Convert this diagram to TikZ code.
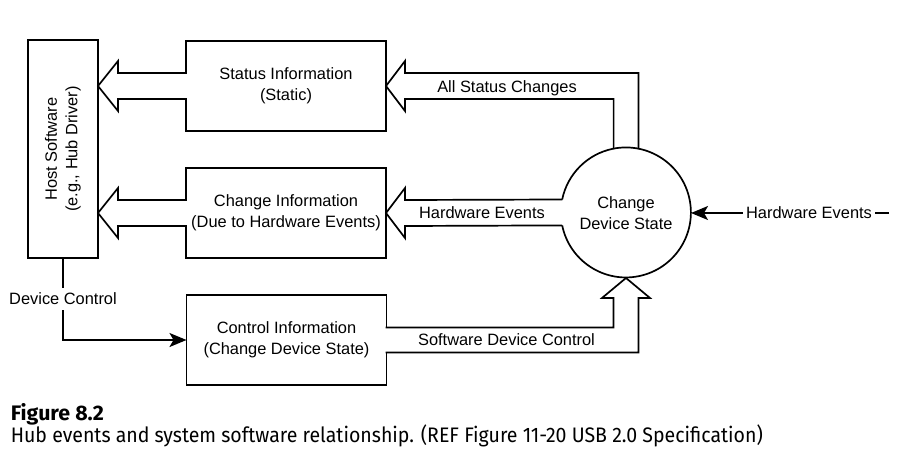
\documentclass[tikz,border=0pt]{standalone}
\usepackage{fontspec}
\setmainfont{Liberation Sans}
\newfontfamily\capfont{Fira Sans}
\usepackage{graphicx}
\usetikzlibrary{arrows.meta}
\usetikzlibrary{calc}

\begin{document}
\begin{tikzpicture}[x=1pt,y=1pt,line width=1.7pt,
	font=\fontsize{16.4}{20.5}\selectfont,
	>={Stealth[length=17pt,width=14pt,inset=4pt]},
	infobox/.style={rectangle,draw,minimum width=200pt,minimum height=90pt,inner sep=0pt,outer sep=0pt,align=center},
	hostbox/.style={rectangle,draw,minimum width=70pt,minimum height=218pt,inner sep=0pt,outer sep=0pt},
	statenode/.style={circle,minimum size=130pt,inner sep=0pt,outer sep=0pt,align=center},
	hollow/.style={draw,line join=miter,preaction={fill=white}},
	flowlabel/.style={anchor=base,inner sep=0pt},
	cutlabel/.style={fill=white,inner xsep=4pt,inner ysep=5pt}
]
\useasboundingbox (0,0) rectangle (899,-461);

% boxes
\node (host) [hostbox] at (63,-149) {};
\node (hosttext) [rotate=90,align=center] at (host.center) {Host Software\\(e.g., Hub Driver)};
\node (status) [infobox] at (286,-86) {Status Information\\(Static)};
\node (change) [infobox] at (286,-213) {Change Information\\(Due to Hardware Events)};
\node (control) [infobox] at (286.5,-340) {Control Information\\(Change Device State)};
\node (chg) [statenode] at (626,-213) {Change\\Device State};
\draw (chg.191.5) arc[start angle=191.5, end angle=528.5, radius=65];

% wide arrows
\draw[hollow] ($(status.west)+(0.9,13)$) -- ++(-68.9,0) -- ++(0,12) -- (host.east |- status.west)
  -- ++(20,-25) -- ++(0,12) -- ($(status.west)+(0.9,-13)$);
\draw[hollow] ($(change.west)+(0.9,13)$) -- ++(-68.9,0) -- ++(0,12) -- (host.east |- change.west)
  -- ++(20,-25) -- ++(0,12) -- ($(change.west)+(0.9,-13)$);
\draw[line join=miter] (chg.101) |- ($(status.east)+(19,-13)$) -- ++(0,-12) -- (status.east)
  -- ++(19,25) -- ++(0,-12) -| (chg.79);
\draw[line join=miter] (chg.168.5) -- ($(change.east)+(19,13)$) -- ++(0,12) -- (change.east)
  -- ++(19,-25) -- ++(0,12) -- (chg.191.5);
\draw[hollow] ($(control.east)+(-0.9,12.5)$) -| ($(chg.south)+(-12.5,-20)$) -- ++(-11.5,0) -- (chg.south)
  -- ++(24,-20) -- ++(-11.5,0) |- ($(control.east)+(-0.9,-12.5)$);

\node (allstat) [flowlabel] at (507,-92) {All Status Changes};
\node (hwev) [flowlabel] at (482,-218) {Hardware Events};
\node (swctl) [flowlabel] at (506.5,-345) {Software Device Control};

% thin arrows
\draw[->] (host.south) -- node[cutlabel] (devctl) {Device Control} (host.south |- control.west) -- (control.west);
\coordinate (hwsrc) at (889,-213);
\draw[->] (hwsrc) -- node[cutlabel,pos=0.404,inner xsep=3pt] (hwin) {Hardware Events} (chg.east);

% caption
\node (fignum) [anchor=base west,inner sep=0pt] at (10,-420)
  {\resizebox{93pt}{\height}{\capfont\bfseries\fontsize{21}{21}\selectfont Figure 8.2}};
\node (figtext) [anchor=base west,inner sep=0pt] at (10,-442)
  {\resizebox{752pt}{\height}{\capfont\fontsize{21}{21}\selectfont Hub events and system software relationship. (REF Figure 11-20 USB 2.0 Specification)}};
\end{tikzpicture}
\end{document}
